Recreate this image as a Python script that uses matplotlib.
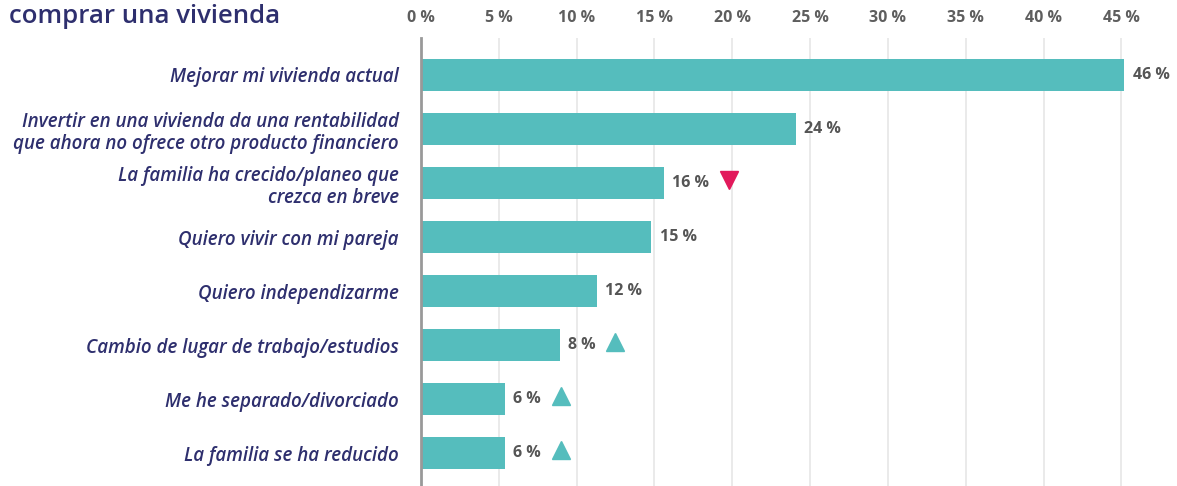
"""Motivos para comprar una vivienda."""
import matplotlib
matplotlib.use("Agg")
from matplotlib import pyplot as plt

categories = [
    "Mejorar mi vivienda actual",
    "Invertir en una vivienda da una rentabilidad\nque ahora no ofrece otro producto financiero",
    "La familia ha crecido/planeo que\ncrezca en breve",
    "Quiero vivir con mi pareja",
    "Quiero independizarme",
    "Cambio de lugar de trabajo/estudios",
    "Me he separado/divorciado",
    "La familia se ha reducido",
]
values = [45.2, 24.1, 15.6, 14.8, 11.3, 8.9, 5.4, 5.4]
value_labels = ["46 %", "24 %", "16 %", "15 %", "12 %", "8 %", "6 %", "6 %"]
trend = [None, None, "down", None, None, "up", "up", "up"]
ticks = [0, 5, 10, 15, 20, 25, 30, 35, 40, 45]
tick_labels = ["0 %", "5 %", "10 %", "15 %", "20 %", "25 %", "30 %", "35 %", "40 %", "45 %"]

teal = "#55BDBD"
red = "#E2195B"
navy = "#2E2F6E"
grey = "#555555"

plt.rcParams["font.family"] = ["Open Sans", "DejaVu Sans"]

fig = plt.figure(figsize=(11.77, 4.86), dpi=100)
ax = fig.add_axes([421 / 1177, 0, 1 - 421 / 1177 - 9 / 1177, 1 - 38 / 486])

y = list(range(len(categories)))
ax.barh(y, values, height=0.6, color=teal, zorder=3)

ax.set_xlim(0, 48)
ax.set_ylim(7.61, -0.685)
ax.set_xticks(ticks)
ax.set_xticklabels(tick_labels, fontsize=11.5, fontweight="bold", color="#5E5E5E")
ax.xaxis.tick_top()
ax.tick_params(axis="x", length=0, pad=9)
ax.set_yticks(y)
ax.set_yticklabels(categories, fontsize=13.5, style="italic", color=navy,
                   fontweight="semibold", linespacing=1.15)
ax.tick_params(axis="y", length=0, pad=16)
ax.grid(axis="x", color="#E6E6E6", linewidth=1.2, zorder=0)

for side in ["top", "right", "bottom"]:
    ax.spines[side].set_visible(False)
ax.spines["left"].set_color("#999999")
ax.spines["left"].set_linewidth(2)
ax.spines["left"].set_zorder(4)

texts = []
for i, (v, lab) in enumerate(zip(values, value_labels)):
    t = ax.annotate(lab, xy=(v, i), xytext=(6, 0), textcoords="offset points",
                    va="center", ha="left", fontsize=11.5, fontweight="bold", color=grey)
    texts.append(t)

fig.canvas.draw()
renderer = fig.canvas.get_renderer()
inv = ax.transData.inverted()
for i, (t, tr) in enumerate(zip(texts, trend)):
    if tr is None:
        continue
    bb = t.get_window_extent(renderer)
    xd, yd = inv.transform((bb.x1 + 20, (bb.y0 + bb.y1) / 2))
    if tr == "up":
        ax.plot(xd, i - 0.05, marker="^", markersize=13, color=teal, zorder=5, clip_on=False)
    else:
        ax.plot(xd, i - 0.05, marker="v", markersize=13, color=red, zorder=5, clip_on=False)

fig.text(0.008, 1 - 23 / 486, "comprar una vivienda", fontsize=18.5, fontweight="semibold",
         color=navy, va="baseline", ha="left")

fig.savefig("out.png", dpi=100)
